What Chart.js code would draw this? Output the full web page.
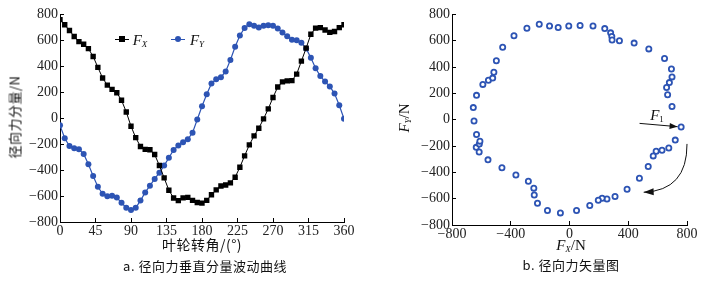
<!DOCTYPE html>
<html>
<head>
<meta charset="utf-8">
<script src="https://cdn.jsdelivr.net/npm/chart.js@4.4.1/dist/chart.umd.min.js"></script>
<style>
  body { margin: 0; background: #fff; width: 709px; height: 281px; overflow: hidden; position: relative; font-family: "Liberation Serif", serif; color: #111; }
  .box { position: absolute; top: 0; }
  .lbl { position: absolute; transform: translate(-50%, -50%); white-space: nowrap; }
  .cn { font-family: "Noto Sans CJK SC", sans-serif; font-size: 13px; letter-spacing: 0.5px; }
  .f { font-size: 15px; }
  .f sub { font-size: 9px; font-style: italic; vertical-align: -2px; }
  .f sub.n { font-style: normal; }
  .mk { position: absolute; }
</style>
</head>
<body>
<div class="box" style="left:0;width:360px;height:240px"><canvas id="left" width="360" height="240"></canvas></div>
<div class="box" style="left:400px;width:309px;height:245px"><canvas id="right" width="309" height="245"></canvas></div>

<!-- legend of the left chart -->
<div class="mk" style="left:115px;top:39px;width:14px;height:1px;background:#000"></div>
<div class="mk" style="left:119px;top:36px;width:6px;height:6px;background:#000"></div>
<div class="lbl f" style="left:140px;top:40px"><i>F</i><sub>X</sub></div>
<div class="mk" style="left:171px;top:39px;width:14px;height:1px;background:#2d54b4"></div>
<div class="mk" style="left:175px;top:36px;width:6px;height:6px;border-radius:50%;background:#2d54b4"></div>
<div class="lbl f" style="left:197px;top:40px"><i>F</i><sub>Y</sub></div>

<!-- axis titles and captions -->
<div class="lbl cn" style="left:14px;top:117px;transform:translate(-50%,-50%) rotate(-90deg)">径向力分量/N</div>
<div class="lbl cn" style="left:202px;top:244px;font-size:14px">叶轮转角/(°)</div>
<div class="lbl cn" style="left:205px;top:265px">a. 径向力垂直分量波动曲线</div>
<div class="lbl f" style="left:404px;top:118px;transform:translate(-50%,-50%) rotate(-90deg)"><i>F</i><sub>Y</sub>/N</div>
<div class="lbl f" style="left:571px;top:245px"><i>F</i><sub>X</sub>/N</div>
<div class="lbl cn" style="left:571px;top:264px">b. 径向力矢量图</div>
<div class="lbl f" style="left:657px;top:115px"><i>F</i><sub class="n">1</sub></div>

<script>
// impeller angle, degrees
const angles = [0, 6, 12, 18, 24, 30, 36, 42, 48, 54, 60, 66, 72, 78, 84, 90, 96, 102, 108, 114,
  120, 126, 132, 138, 144, 150, 156, 162, 168, 174, 180, 186, 192, 198, 204, 210, 216, 222, 228, 234,
  240, 246, 252, 258, 264, 270, 276, 282, 288, 294, 300, 306, 312, 318, 324, 330, 336, 342, 348, 354, 360]

// radial force components, N
const fx = [760, 720, 676, 630, 590, 570, 536, 476, 392, 310, 255, 222, 196, 138, 48, -62, -150, -218, -240, -243,
  -280, -365, -460, -555, -615, -635, -614, -610, -633, -650, -655, -633, -590, -552, -523, -515, -498, -455, -378, -290,
  -206, -136, -77, -5, 72, 160, 240, 280, 288, 290, 340, 440, 540, 647, 694, 698, 680, 661, 668, 698, 720]
const fy = [-55, -155, -215, -232, -240, -275, -355, -445, -528, -583, -602, -597, -612, -652, -690, -708, -690, -635, -572, -520,
  -468, -420, -365, -305, -245, -210, -185, -163, -112, -10, 92, 185, 268, 300, 316, 360, 448, 550, 638, 695,
  725, 712, 700, 712, 716, 712, 692, 660, 632, 605, 600, 582, 538, 465, 385, 325, 282, 245, 190, 100, -5]

const angleTicks = [0, 45, 90, 135, 180, 225, 270, 315, 360]
const forceTicksY = [-800, -600, -400, -200, 0, 200, 400, 600, 800]
const forceTicksX = [-800, -400, 0, 400, 800]

// annotation arrows in the vector plot, in N
const f1Arrow = [[477, -28], [736, -53]]
const turnArrow = [[800, -184], [802, -538], [505, -551]]

const BLUE = '#2d54b4'
const tickFont = { family: 'Liberation Serif', size: 14 }
const minus = v => (v < 0 ? '\u2212' + Math.abs(v) : String(v))

function axis(min, max, ticks, size, isY) {
  return {
    type: 'linear',
    min, max,
    afterBuildTicks: s => { s.ticks = ticks.map(v => ({ value: v })) },
    afterFit: s => { if (isY) s.width = size; else s.height = size },
    grid: { drawOnChartArea: false, drawTicks: true, tickLength: -4, color: '#000', lineWidth: 1 },
    border: { display: true, color: '#000', width: 1 },
    ticks: { color: '#222', font: tickFont, padding: isY ? 6 : 5, maxRotation: 0, autoSkip: false, callback: minus }
  }
}

function head(ctx, x, y, ang, len = 8, w = 3) {
  ctx.beginPath()
  ctx.moveTo(x, y)
  ctx.lineTo(x - len * Math.cos(ang) + w * Math.sin(ang), y - len * Math.sin(ang) - w * Math.cos(ang))
  ctx.lineTo(x - len * Math.cos(ang) - w * Math.sin(ang), y - len * Math.sin(ang) + w * Math.cos(ang))
  ctx.closePath()
  ctx.fill()
}

const arrows = {
  id: 'arrows',
  afterDatasetsDraw(chart) {
    const { ctx, scales: { x, y } } = chart
    const px = p => [x.getPixelForValue(p[0]), y.getPixelForValue(p[1])]
    ctx.save()
    ctx.strokeStyle = '#111'
    ctx.fillStyle = '#111'
    ctx.lineWidth = 1

    const [ax, ay] = px(f1Arrow[0])
    const [bx, by] = px(f1Arrow[1])
    ctx.beginPath(); ctx.moveTo(ax, ay); ctx.lineTo(bx, by); ctx.stroke()
    head(ctx, bx, by, Math.atan2(by - ay, bx - ax))

    const [p0x, p0y] = px(turnArrow[0])
    const [cx, cy] = px(turnArrow[1])
    const [p2x, p2y] = px(turnArrow[2])
    ctx.beginPath(); ctx.moveTo(p0x, p0y); ctx.quadraticCurveTo(cx, cy, p2x, p2y); ctx.stroke()
    head(ctx, p2x, p2y, Math.atan2(p2y - cy, p2x - cx), 10, 3.5)
    ctx.restore()
  }
}

new Chart(document.getElementById('left'), {
  type: 'line',
  data: {
    datasets: [
      {
        label: 'FX',
        data: angles.map((a, i) => ({ x: a, y: fx[i] })),
        borderColor: '#000',
        borderWidth: 1,
        pointStyle: 'rect',
        pointRadius: 3.8,
        pointBackgroundColor: '#000',
        pointBorderWidth: 0,
        tension: 0
      },
      {
        label: 'FY',
        data: angles.map((a, i) => ({ x: a, y: fy[i] })),
        borderColor: BLUE,
        borderWidth: 1.2,
        pointStyle: 'circle',
        pointRadius: 3,
        pointBackgroundColor: BLUE,
        pointBorderWidth: 0,
        tension: 0
      }
    ]
  },
  options: {
    responsive: false,
    animation: false,
    devicePixelRatio: 1,
    layout: { padding: { top: 14, right: 16, left: 0, bottom: 0 } },
    scales: {
      x: axis(0, 360, angleTicks, 18, false),
      y: axis(-800, 800, forceTicksY, 60, true)
    },
    plugins: { legend: { display: false }, tooltip: { enabled: false } }
  }
})

new Chart(document.getElementById('right'), {
  type: 'scatter',
  data: {
    datasets: [{
      label: 'F',
      // the 360° sample repeats the 0° one, so the loop uses 0..354
      data: angles.slice(0, -1).map((a, i) => ({ x: fx[i], y: fy[i] })),
      pointStyle: 'circle',
      pointRadius: 2.6,
      pointBackgroundColor: '#fff',
      pointBorderColor: BLUE,
      pointBorderWidth: 1.8
    }]
  },
  options: {
    responsive: false,
    animation: false,
    devicePixelRatio: 1,
    layout: { padding: { top: 14, right: 22, left: 0, bottom: 0 } },
    scales: {
      x: axis(-800, 800, forceTicksX, 20, false),
      y: axis(-800, 800, forceTicksY, 52, true)
    },
    plugins: { legend: { display: false }, tooltip: { enabled: false } }
  },
  plugins: [arrows]
})
</script>
</body>
</html>
